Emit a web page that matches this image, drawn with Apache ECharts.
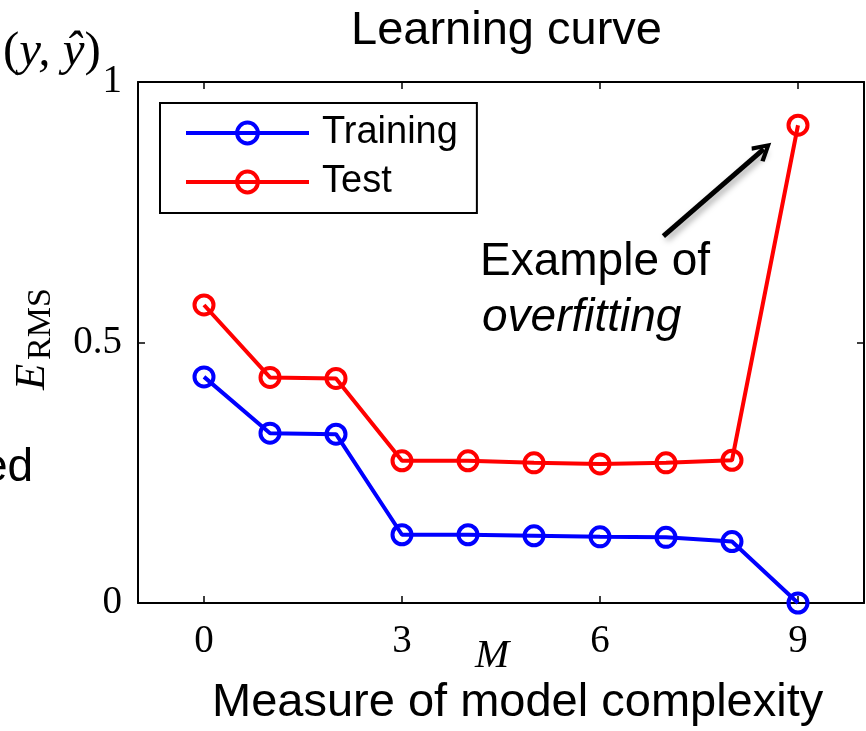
<!DOCTYPE html>
<html>
<head>
<meta charset="utf-8">
<script src="https://cdn.jsdelivr.net/npm/echarts@6/dist/echarts.min.js"></script>
<style>
  html, body { margin: 0; padding: 0; background: #ffffff; }
  #chart { width: 866px; height: 731px; }
</style>
</head>
<body>
<div id="chart"></div>
<script>
// Polynomial order M and RMS error for training / test sets
const complexity = [0, 1, 2, 3, 4, 5, 6, 7, 8, 9];
const trainingErr = [0.434, 0.326, 0.324, 0.131, 0.131, 0.129, 0.127, 0.126, 0.118, 0.0];
const testErr = [0.572, 0.433, 0.431, 0.273, 0.273, 0.269, 0.267, 0.269, 0.274, 0.917];
const xTickValues = [0, 3, 6, 9];
// Annotation arrow (in data coordinates) pointing at the overfit test error
const arrowFrom = [6.96, 0.704];
const arrowTo = [8.48, 0.871];

const SANS = '"Liberation Sans", Arial, Helvetica, sans-serif';
const SERIF = '"Liberation Serif", "Times New Roman", serif';

const chart = echarts.init(document.getElementById('chart'), null, { renderer: 'canvas' });

const pairs = (ys) => complexity.map((m, i) => [m, ys[i]]);

const boxAxisLine = { show: true, onZero: false, lineStyle: { color: '#000', width: 2 } };
const boxTick = { show: true, inside: true, length: 7, lineStyle: { color: '#000', width: 1.5 } };

const chevron = 'path://M10,0 L20,17 L16.5,19.5 L10,8 L3.5,19.5 L0,17 Z';

function lineSeries(name, ys, color, extra) {
  return Object.assign({
    name: name,
    type: 'line',
    data: pairs(ys),
    xAxisIndex: 0,
    yAxisIndex: 0,
    symbol: 'circle',
    symbolSize: 19,
    showAllSymbol: true,
    lineStyle: { color: color, width: 4 },
    itemStyle: { color: 'rgba(0,0,0,0)', borderColor: color, borderWidth: 4 },
    emphasis: { disabled: true },
    clip: false
  }, extra || {});
}

const legendItem = (name, color) => ({
  name: name,
  itemStyle: { color: 'rgba(0,0,0,0)', borderColor: color, borderWidth: 4 },
  lineStyle: { color: color, width: 4 }
});

const option = {
  animation: false,
  backgroundColor: '#ffffff',
  title: {
    text: 'Learning curve',
    left: 351,
    top: 8,
    padding: 0,
    textStyle: { fontFamily: SANS, fontSize: 47, fontWeight: 'normal', color: '#000' }
  },
  grid: {
    left: 138, right: 2, top: 82, bottom: 128,
    containLabel: false,
    outerBoundsMode: 'none',
    show: false
  },
  legend: {
    orient: 'vertical',
    left: 160,
    top: 103,
    padding: [11, 19, 12, 24],
    itemGap: 11,
    itemWidth: 123,
    itemHeight: 26,
    backgroundColor: '#ffffff',
    borderColor: '#000',
    borderWidth: 2,
    borderRadius: 0,
    selectedMode: false,
    lineStyle: { width: 4 },
    itemStyle: { borderWidth: 4 },
    textStyle: {
      fontFamily: SANS, fontSize: 38, lineHeight: 38, color: '#000',
      padding: [0, 0, 0, 8]
    },
    data: [legendItem('Training', '#0000ff'), legendItem('Test', '#ff0000')]
  },
  xAxis: [
    {
      type: 'value',
      min: -1,
      max: 10,
      position: 'bottom',
      axisLine: boxAxisLine,
      axisTick: Object.assign({ customValues: xTickValues }, boxTick),
      axisLabel: {
        customValues: xTickValues,
        margin: 19,
        fontFamily: SERIF, fontSize: 39, color: '#000'
      },
      splitLine: { show: false },
      name: 'M',
      nameLocation: 'middle',
      nameGap: 33,
      nameMoveOverlap: false,
      nameTextStyle: {
        fontFamily: SERIF, fontStyle: 'italic', fontSize: 41, color: '#000',
        padding: [0, 18, 0, 0]
      }
    },
    {
      type: 'value',
      min: -1,
      max: 10,
      position: 'top',
      axisLine: boxAxisLine,
      axisTick: Object.assign({ customValues: xTickValues }, boxTick),
      axisLabel: { show: false },
      splitLine: { show: false }
    }
  ],
  yAxis: [
    {
      type: 'value',
      min: 0,
      max: 1,
      interval: 0.5,
      position: 'left',
      axisLine: boxAxisLine,
      axisTick: boxTick,
      axisLabel: { margin: 16, fontFamily: SERIF, fontSize: 39, color: '#000' },
      splitLine: { show: false }
    },
    {
      type: 'value',
      min: 0,
      max: 1,
      interval: 0.5,
      position: 'right',
      axisLine: boxAxisLine,
      axisTick: boxTick,
      axisLabel: { show: false },
      splitLine: { show: false }
    }
  ],
  series: [
    lineSeries('Training', trainingErr, '#0000ff'),
    lineSeries('Test', testErr, '#ff0000', {
      markLine: {
        silent: true,
        symbol: ['none', chevron],
        symbolSize: 20,
        label: { show: false },
        emphasis: { disabled: true },
        lineStyle: {
          type: 'solid', color: '#000', width: 5,
          shadowBlur: 6, shadowColor: 'rgba(0,0,0,0.35)',
          shadowOffsetX: 3, shadowOffsetY: 3
        },
        data: [[{ coord: arrowFrom }, { coord: arrowTo }]]
      }
    })
  ],
  graphic: [
    {
      type: 'text', x: 3, y: 52,
      style: {
        text: '{p|(}{i|y, ŷ}{p|)}',
        verticalAlign: 'middle',
        rich: {
          p: { fontFamily: SERIF, fontSize: 49, fill: '#000' },
          i: { fontFamily: SERIF, fontStyle: 'italic', fontSize: 49, fill: '#000' }
        }
      }
    },
    {
      type: 'group', x: 47, y: 390, rotation: Math.PI / 2,
      children: [
        {
          type: 'text', x: 0, y: -14,
          style: {
            text: 'E', fontFamily: SERIF, fontStyle: 'italic', fontSize: 43,
            fill: '#000', verticalAlign: 'middle', align: 'left'
          }
        },
        {
          type: 'text', x: 30, y: -6,
          style: {
            text: 'RMS', fontFamily: SERIF, fontSize: 34,
            fill: '#000', verticalAlign: 'middle', align: 'left'
          }
        }
      ]
    },
    {
      type: 'text', x: -18, y: 468,
      style: { text: 'ed', fontFamily: SANS, fontSize: 46, fill: '#000', verticalAlign: 'middle' }
    },
    {
      type: 'text', x: 480, y: 262,
      style: { text: 'Example of', fontFamily: SANS, fontSize: 46, fill: '#000', verticalAlign: 'middle' }
    },
    {
      type: 'text', x: 482, y: 318,
      style: { text: 'overfitting', fontFamily: SANS, fontStyle: 'italic', fontSize: 46, fill: '#000', verticalAlign: 'middle' }
    },
    {
      type: 'text', x: 212, y: 703,
      style: { text: 'Measure of model complexity', fontFamily: SANS, fontSize: 47, fill: '#000', verticalAlign: 'middle' }
    }
  ]
};

chart.setOption(option);
</script>
</body>
</html>
